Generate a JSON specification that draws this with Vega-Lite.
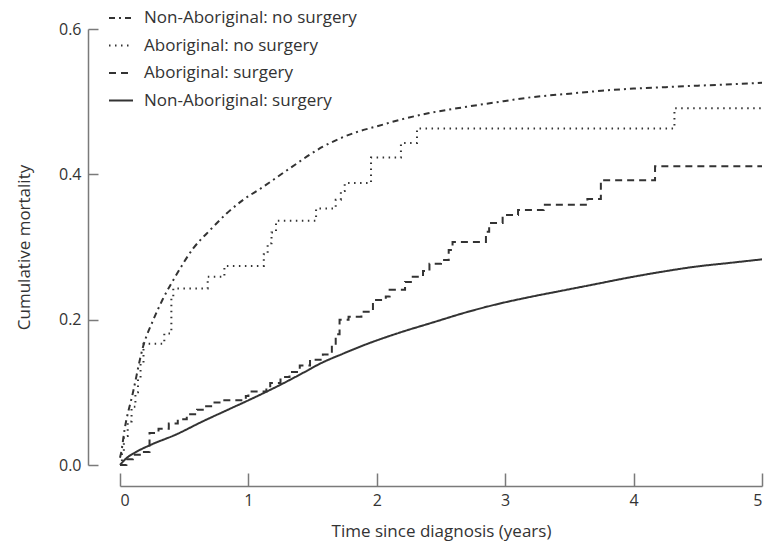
{
  "$schema": "https://vega.github.io/schema/vega-lite/v6.json",
  "width": 642,
  "height": 436,
  "autosize": {"type": "none"},
  "padding": {"left": 120, "top": 29, "right": 18, "bottom": 79},
  "background": "white",
  "config": {
    "view": {"stroke": null},
    "font": "Open Sans",
    "axis": {"grid": false, "domainColor": "#7a7a7a", "tickColor": "#7a7a7a", "domainWidth": 1.5, "tickWidth": 1.5, "labelColor": "#333333", "titleColor": "#333333", "labelFontSize": 16, "titleFontSize": 17, "titleFontWeight": "normal", "labelFont": "Open Sans", "titleFont": "Open Sans"}
  },
  "datasets": {
    "smooth": [
      {"group": "Non-Aboriginal: no surgery", "t": 0, "y": 0.01},
      {"group": "Non-Aboriginal: no surgery", "t": 0.01, "y": 0.018},
      {"group": "Non-Aboriginal: no surgery", "t": 0.035, "y": 0.048},
      {"group": "Non-Aboriginal: no surgery", "t": 0.1, "y": 0.099},
      {"group": "Non-Aboriginal: no surgery", "t": 0.18, "y": 0.163},
      {"group": "Non-Aboriginal: no surgery", "t": 0.26, "y": 0.2},
      {"group": "Non-Aboriginal: no surgery", "t": 0.33, "y": 0.227},
      {"group": "Non-Aboriginal: no surgery", "t": 0.44, "y": 0.262},
      {"group": "Non-Aboriginal: no surgery", "t": 0.57, "y": 0.298},
      {"group": "Non-Aboriginal: no surgery", "t": 0.7, "y": 0.323},
      {"group": "Non-Aboriginal: no surgery", "t": 0.83, "y": 0.346},
      {"group": "Non-Aboriginal: no surgery", "t": 0.96, "y": 0.365},
      {"group": "Non-Aboriginal: no surgery", "t": 1.1, "y": 0.381},
      {"group": "Non-Aboriginal: no surgery", "t": 1.32, "y": 0.408},
      {"group": "Non-Aboriginal: no surgery", "t": 1.58, "y": 0.438},
      {"group": "Non-Aboriginal: no surgery", "t": 1.84, "y": 0.458},
      {"group": "Non-Aboriginal: no surgery", "t": 2.0, "y": 0.466},
      {"group": "Non-Aboriginal: no surgery", "t": 2.2, "y": 0.476},
      {"group": "Non-Aboriginal: no surgery", "t": 2.4, "y": 0.484},
      {"group": "Non-Aboriginal: no surgery", "t": 2.7, "y": 0.493},
      {"group": "Non-Aboriginal: no surgery", "t": 3.0, "y": 0.501},
      {"group": "Non-Aboriginal: no surgery", "t": 3.2, "y": 0.506},
      {"group": "Non-Aboriginal: no surgery", "t": 3.5, "y": 0.511},
      {"group": "Non-Aboriginal: no surgery", "t": 3.75, "y": 0.515},
      {"group": "Non-Aboriginal: no surgery", "t": 4.0, "y": 0.518},
      {"group": "Non-Aboriginal: no surgery", "t": 4.25, "y": 0.52},
      {"group": "Non-Aboriginal: no surgery", "t": 4.5, "y": 0.522},
      {"group": "Non-Aboriginal: no surgery", "t": 4.77, "y": 0.524},
      {"group": "Non-Aboriginal: no surgery", "t": 5.0, "y": 0.526},
      {"group": "Non-Aboriginal: surgery", "t": 0, "y": 0},
      {"group": "Non-Aboriginal: surgery", "t": 0.048, "y": 0.009},
      {"group": "Non-Aboriginal: surgery", "t": 0.126, "y": 0.018},
      {"group": "Non-Aboriginal: surgery", "t": 0.23, "y": 0.027},
      {"group": "Non-Aboriginal: surgery", "t": 0.437, "y": 0.042},
      {"group": "Non-Aboriginal: surgery", "t": 0.644, "y": 0.06},
      {"group": "Non-Aboriginal: surgery", "t": 0.852, "y": 0.077},
      {"group": "Non-Aboriginal: surgery", "t": 1.06, "y": 0.094},
      {"group": "Non-Aboriginal: surgery", "t": 1.267, "y": 0.112},
      {"group": "Non-Aboriginal: surgery", "t": 1.449, "y": 0.129},
      {"group": "Non-Aboriginal: surgery", "t": 1.553, "y": 0.139},
      {"group": "Non-Aboriginal: surgery", "t": 1.734, "y": 0.153},
      {"group": "Non-Aboriginal: surgery", "t": 1.916, "y": 0.166},
      {"group": "Non-Aboriginal: surgery", "t": 2.175, "y": 0.182},
      {"group": "Non-Aboriginal: surgery", "t": 2.434, "y": 0.196},
      {"group": "Non-Aboriginal: surgery", "t": 2.694, "y": 0.21},
      {"group": "Non-Aboriginal: surgery", "t": 2.953, "y": 0.222},
      {"group": "Non-Aboriginal: surgery", "t": 3.187, "y": 0.231},
      {"group": "Non-Aboriginal: surgery", "t": 3.446, "y": 0.24},
      {"group": "Non-Aboriginal: surgery", "t": 3.706, "y": 0.249},
      {"group": "Non-Aboriginal: surgery", "t": 3.965, "y": 0.258},
      {"group": "Non-Aboriginal: surgery", "t": 4.224, "y": 0.266},
      {"group": "Non-Aboriginal: surgery", "t": 4.484, "y": 0.273},
      {"group": "Non-Aboriginal: surgery", "t": 4.743, "y": 0.278},
      {"group": "Non-Aboriginal: surgery", "t": 5.0, "y": 0.283}
    ],
    "steps": [
      {"group": "Aboriginal: no surgery", "t": 0, "y": 0},
      {"group": "Aboriginal: no surgery", "t": 0.015, "y": 0.015},
      {"group": "Aboriginal: no surgery", "t": 0.03, "y": 0.04},
      {"group": "Aboriginal: no surgery", "t": 0.06, "y": 0.06},
      {"group": "Aboriginal: no surgery", "t": 0.09, "y": 0.08},
      {"group": "Aboriginal: no surgery", "t": 0.12, "y": 0.1},
      {"group": "Aboriginal: no surgery", "t": 0.14, "y": 0.12},
      {"group": "Aboriginal: no surgery", "t": 0.16, "y": 0.14},
      {"group": "Aboriginal: no surgery", "t": 0.183, "y": 0.167},
      {"group": "Aboriginal: no surgery", "t": 0.345, "y": 0.181},
      {"group": "Aboriginal: no surgery", "t": 0.4, "y": 0.232},
      {"group": "Aboriginal: no surgery", "t": 0.415, "y": 0.243},
      {"group": "Aboriginal: no surgery", "t": 0.683, "y": 0.259},
      {"group": "Aboriginal: no surgery", "t": 0.813, "y": 0.274},
      {"group": "Aboriginal: no surgery", "t": 1.12, "y": 0.29},
      {"group": "Aboriginal: no surgery", "t": 1.15, "y": 0.305},
      {"group": "Aboriginal: no surgery", "t": 1.18, "y": 0.32},
      {"group": "Aboriginal: no surgery", "t": 1.215, "y": 0.336},
      {"group": "Aboriginal: no surgery", "t": 1.527, "y": 0.353},
      {"group": "Aboriginal: no surgery", "t": 1.68, "y": 0.365},
      {"group": "Aboriginal: no surgery", "t": 1.72, "y": 0.377},
      {"group": "Aboriginal: no surgery", "t": 1.75, "y": 0.388},
      {"group": "Aboriginal: no surgery", "t": 1.955, "y": 0.423},
      {"group": "Aboriginal: no surgery", "t": 2.188, "y": 0.443},
      {"group": "Aboriginal: no surgery", "t": 2.313, "y": 0.463},
      {"group": "Aboriginal: no surgery", "t": 4.318, "y": 0.491},
      {"group": "Aboriginal: no surgery", "t": 5.0, "y": 0.491},
      {"group": "Aboriginal: surgery", "t": 0, "y": 0},
      {"group": "Aboriginal: surgery", "t": 0.05, "y": 0.008},
      {"group": "Aboriginal: surgery", "t": 0.1, "y": 0.014},
      {"group": "Aboriginal: surgery", "t": 0.17, "y": 0.018},
      {"group": "Aboriginal: surgery", "t": 0.23, "y": 0.044},
      {"group": "Aboriginal: surgery", "t": 0.3, "y": 0.05},
      {"group": "Aboriginal: surgery", "t": 0.38, "y": 0.057},
      {"group": "Aboriginal: surgery", "t": 0.45, "y": 0.063},
      {"group": "Aboriginal: surgery", "t": 0.52, "y": 0.07},
      {"group": "Aboriginal: surgery", "t": 0.6, "y": 0.076},
      {"group": "Aboriginal: surgery", "t": 0.66, "y": 0.081},
      {"group": "Aboriginal: surgery", "t": 0.72, "y": 0.086},
      {"group": "Aboriginal: surgery", "t": 0.8, "y": 0.089},
      {"group": "Aboriginal: surgery", "t": 0.98, "y": 0.095},
      {"group": "Aboriginal: surgery", "t": 1.0, "y": 0.101},
      {"group": "Aboriginal: surgery", "t": 1.14, "y": 0.106},
      {"group": "Aboriginal: surgery", "t": 1.17, "y": 0.113},
      {"group": "Aboriginal: surgery", "t": 1.25, "y": 0.121},
      {"group": "Aboriginal: surgery", "t": 1.32, "y": 0.128},
      {"group": "Aboriginal: surgery", "t": 1.4, "y": 0.137},
      {"group": "Aboriginal: surgery", "t": 1.48, "y": 0.145},
      {"group": "Aboriginal: surgery", "t": 1.58, "y": 0.152},
      {"group": "Aboriginal: surgery", "t": 1.65, "y": 0.165},
      {"group": "Aboriginal: surgery", "t": 1.68, "y": 0.18},
      {"group": "Aboriginal: surgery", "t": 1.71, "y": 0.2},
      {"group": "Aboriginal: surgery", "t": 1.78, "y": 0.204},
      {"group": "Aboriginal: surgery", "t": 1.88, "y": 0.211},
      {"group": "Aboriginal: surgery", "t": 1.97, "y": 0.227},
      {"group": "Aboriginal: surgery", "t": 2.07, "y": 0.232},
      {"group": "Aboriginal: surgery", "t": 2.1, "y": 0.241},
      {"group": "Aboriginal: surgery", "t": 2.22, "y": 0.252},
      {"group": "Aboriginal: surgery", "t": 2.28, "y": 0.259},
      {"group": "Aboriginal: surgery", "t": 2.36, "y": 0.267},
      {"group": "Aboriginal: surgery", "t": 2.41, "y": 0.277},
      {"group": "Aboriginal: surgery", "t": 2.5, "y": 0.282},
      {"group": "Aboriginal: surgery", "t": 2.56, "y": 0.296},
      {"group": "Aboriginal: surgery", "t": 2.59, "y": 0.307},
      {"group": "Aboriginal: surgery", "t": 2.85, "y": 0.321},
      {"group": "Aboriginal: surgery", "t": 2.875, "y": 0.333},
      {"group": "Aboriginal: surgery", "t": 2.98, "y": 0.344},
      {"group": "Aboriginal: surgery", "t": 3.1, "y": 0.351},
      {"group": "Aboriginal: surgery", "t": 3.3, "y": 0.358},
      {"group": "Aboriginal: surgery", "t": 3.64, "y": 0.366},
      {"group": "Aboriginal: surgery", "t": 3.745, "y": 0.392},
      {"group": "Aboriginal: surgery", "t": 4.167, "y": 0.411},
      {"group": "Aboriginal: surgery", "t": 5.0, "y": 0.411}
    ]
  },
  "encoding": {
    "x": {
      "field": "t", "type": "quantitative",
      "scale": {"domain": [0, 5], "nice": false},
      "axis": {"title": "Time since diagnosis (years)", "values": [0, 1, 2, 3, 4, 5], "format": "d", "tickSize": -13, "offset": 21, "labelPadding": 19, "titlePadding": 15}
    },
    "y": {
      "field": "y", "type": "quantitative",
      "scale": {"domain": [0, 0.6], "nice": false},
      "axis": {"title": "Cumulative mortality", "values": [0, 0.2, 0.4, 0.6], "format": ".1f", "tickSize": -10, "offset": 32, "labelPadding": 17, "titlePadding": 25}
    },
    "strokeDash": {
      "field": "group", "type": "nominal",
      "scale": {
        "domain": ["Non-Aboriginal: no surgery", "Aboriginal: no surgery", "Aboriginal: surgery", "Non-Aboriginal: surgery"],
        "range": [[6, 4, 2, 4], [1.5, 4.5], [7, 5], [1, 0]]
      },
      "legend": {
        "title": null, "orient": "none", "legendX": -12, "legendY": -24,
        "symbolType": "stroke", "symbolSize": 576, "symbolStrokeWidth": 2, "symbolStrokeColor": "#333333",
        "labelFontSize": 17, "labelColor": "#333333", "labelFont": "Open Sans", "labelLimit": 0, "rowPadding": 6.5, "labelOffset": 10, "padding": 0
      }
    }
  },
  "layer": [
    {
      "data": {"name": "smooth"},
      "mark": {"type": "line", "interpolate": "monotone", "strokeWidth": 2, "color": "#333333"}
    },
    {
      "data": {"name": "steps"},
      "mark": {"type": "line", "interpolate": "step-after", "strokeWidth": 2, "color": "#333333"}
    }
  ]
}
